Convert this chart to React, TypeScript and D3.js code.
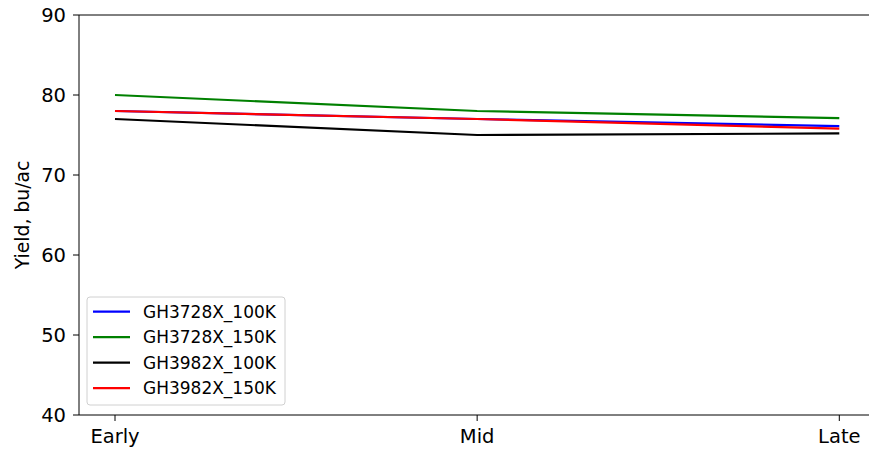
import React from 'react';
import * as d3 from 'd3';

const categories = ['Early', 'Mid', 'Late'];
const seriesNames = ['GH3728X_100K', 'GH3728X_150K', 'GH3982X_100K', 'GH3982X_150K'];
const seriesColors = ['#0000ff', '#008000', '#000000', '#ff0000'];
const gh3728x100 = [78.0, 77.0, 76.1];
const gh3728x150 = [80.0, 78.0, 77.1];
const gh3982x100 = [77.0, 75.0, 75.2];
const gh3982x150 = [78.0, 77.0, 75.8];
const yTicks = [40, 50, 60, 70, 80, 90];

const seriesValues = [gh3728x100, gh3728x150, gh3982x100, gh3982x150];

export default function App() {
  const width = 869;
  const height = 451;
  const margin = { top: 15, left: 79, bottom: 36 };
  const plotBottom = height - margin.bottom;

  const x = d3.scalePoint<string>()
    .domain(categories)
    .range([115, 839.3]);

  const y = d3.scaleLinear()
    .domain([40, 90])
    .range([plotBottom, margin.top]);

  const line = d3.line<number>()
    .x((d, i) => x(categories[i]) as number)
    .y(d => y(d));

  const font = 'DejaVu Sans, sans-serif';

  return (
    <svg width={width} height={height} style={{ position: 'absolute', left: 0, top: 0, background: '#fff' }}>
      {seriesValues.map((vals, i) => (
        <path key={seriesNames[i]} d={line(vals) || ''} fill="none" stroke={seriesColors[i]} strokeWidth={2.2} />
      ))}

      {/* spines */}
      <line x1={margin.left} x2={width} y1={margin.top} y2={margin.top} stroke="#000" strokeWidth={1} />
      <line x1={margin.left} x2={width} y1={plotBottom} y2={plotBottom} stroke="#000" strokeWidth={1} />
      <line x1={margin.left} x2={margin.left} y1={margin.top} y2={plotBottom} stroke="#000" strokeWidth={1} />

      {/* y axis */}
      {yTicks.map(t => (
        <g key={t} transform={`translate(${margin.left},${y(t)})`}>
          <line x1={-6} x2={0} stroke="#000" strokeWidth={1} />
          <text x={-13} dy="0.36em" textAnchor="end" fontFamily={font} fontSize={19.5} fill="#000">{t}</text>
        </g>
      ))}
      <text transform={`translate(29,${(margin.top + plotBottom) / 2}) rotate(-90)`} textAnchor="middle"
        fontFamily={font} fontSize={18.8} fill="#000">Yield, bu/ac</text>

      {/* x axis */}
      {categories.map(c => (
        <g key={c} transform={`translate(${x(c)},${plotBottom})`}>
          <line y1={0} y2={6} stroke="#000" strokeWidth={1} />
          <text y={28} textAnchor="middle" fontFamily={font} fontSize={19.5} fill="#000">{c}</text>
        </g>
      ))}

      {/* legend */}
      <g>
        <rect x={87} y={297} width={198} height={108} rx={3} fill="#fff" fillOpacity={0.8} stroke="#d0d0d0" strokeWidth={1} />
        {seriesNames.map((name, i) => {
          const ly = 311.7 + i * 25.5;
          return (
            <g key={name}>
              <line x1={93} x2={130} y1={ly} y2={ly} stroke={seriesColors[i]} strokeWidth={2.2} />
              <text x={143} y={ly} dy="0.36em" fontFamily={font} fontSize={17} fill="#000">{name}</text>
            </g>
          );
        })}
      </g>
    </svg>
  );
}
